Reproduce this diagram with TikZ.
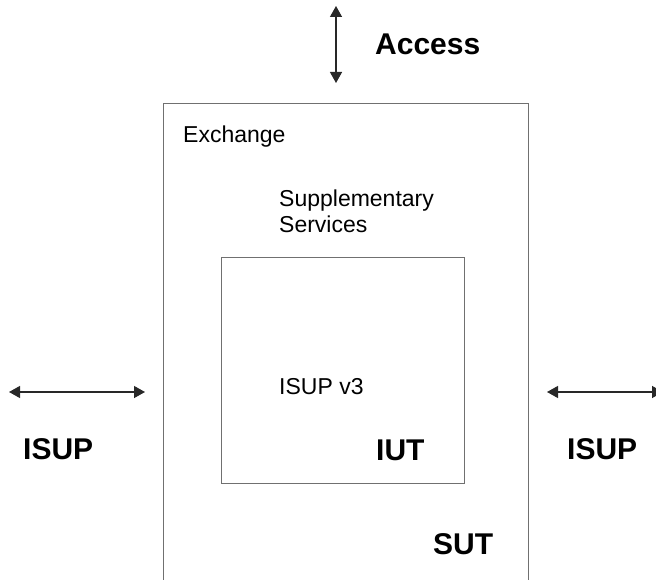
\documentclass[tikz,border=0pt]{standalone}
\usepackage{fontspec}
\setmainfont{Liberation Sans}
\usepackage{tikz}
\usetikzlibrary{arrows.meta, positioning}
\definecolor{framegray}{RGB}{112, 112, 112}
\definecolor{arrowgray}{RGB}{40, 40, 40}

\begin{document}
\begin{tikzpicture}[
    x=1pt, y=-1pt,
    frame/.style={draw=framegray, line width=1.3pt, inner sep=0pt, anchor=north west},
    txt/.style={inner sep=0pt, anchor=base west, font=\fontsize{23}{26}\selectfont},
    tag/.style={inner sep=0pt, anchor=base west, font=\fontsize{30}{34}\selectfont\bfseries},
    arrow/.style={{Triangle[length=11pt, width=12pt]}-{Triangle[length=11pt, width=12pt]}, line width=1.3pt, draw=arrowgray, fill=arrowgray}
]
    \useasboundingbox (0,0) rectangle (656,580);
    \clip (0,0) rectangle (656,580);

    % exchange runs off the bottom edge, IUT sits inside it
    \node[frame, minimum width=365pt, minimum height=520pt] (exch) at (163,103) {};
    \node[frame, minimum width=243pt, minimum height=226pt] (iut) at (221,257) {};

    \node[txt] (exchlbl) at (183,143) {Exchange};
    \node[txt] (supp) at (279,207) {Supplementary};
    \node[txt] (serv) at (279,233) {Services};
    \node[txt] (isupv3) at (279,394) {ISUP v3};
    \node[tag] (iutlbl) at (376,460) {IUT};
    \node[tag] (sutlbl) at (433,554) {SUT};
    \node[tag] (access) at (375,55) {Access};
    \node[tag] (isupl) at (23,459) {ISUP};
    \node[tag] (isupr) at (567,459) {ISUP};

    % interface arrows
    \coordinate (acctop) at (336,6);
    \coordinate (accbot) at (336,83);
    \coordinate (leftout) at (9,392);
    \coordinate (leftin) at (145,392);
    \coordinate (rightin) at (547,392);
    \coordinate (rightout) at (663,392);

    \draw[arrow] (acctop) -- (accbot);
    \draw[arrow] (leftout) -- (leftin);
    \draw[arrow] (rightin) -- (rightout);
\end{tikzpicture}
\end{document}
